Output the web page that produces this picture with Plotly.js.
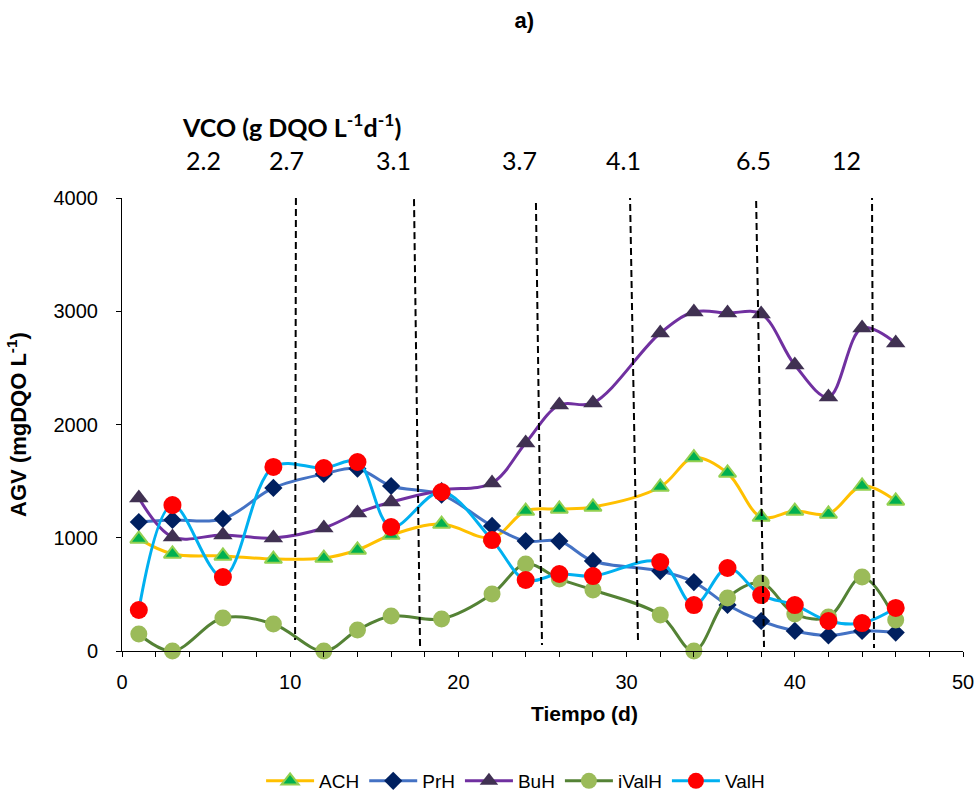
<!DOCTYPE html>
<html>
<head>
<meta charset="utf-8">
<script src="https://cdn.plot.ly/plotly-3.0.1.min.js"></script>
<style>
  html, body { margin: 0; padding: 0; background: #fff; }
  #chart { width: 980px; height: 796px; }
</style>
</head>
<body>
<div id="chart"></div>
<script>
// Sampling days (d)
const days = [1, 3, 6, 9, 12, 14, 16, 19, 22, 24, 26, 28, 32, 34, 36, 38, 40, 42, 44, 46];

// Volatile fatty acids, mgDQO/L
const ACH   = [990, 857, 839, 812, 821, 892, 1024, 1121, 1000, 1236, 1254, 1272, 1448, 1708, 1572, 1183, 1236, 1210, 1457, 1325];
const PrH   = [1139, 1157, 1166, 1440, 1563, 1610, 1457, 1380, 1104, 971, 971, 795, 706, 609, 406, 265, 177, 137, 177, 163];
const BuH   = [1351, 1007, 1024, 998, 1086, 1219, 1316, 1420, 1483, 1837, 2172, 2190, 2808, 2993, 2985, 2976, 2525, 2243, 2852, 2720];
const iValH = [150, 0, 291, 238, 0, 185, 309, 283, 503, 768, 636, 539, 318, 0, 468, 600, 327, 300, 653, 274];
const ValH  = [362, 1289, 653, 1625, 1616, 1669, 1095, 1404, 980, 627, 680, 662, 786, 406, 733, 494, 406, 265, 247, 380];

// Organic loading rate stages (g DQO L-1 d-1) and where their labels sit on the day axis
const vcoLabels = ['2.2', '2.7', '3.1', '3.7', '4.1', '6.5', '12'];
const vcoDay    = [4.82, 9.79, 16.13, 23.66, 29.8, 37.53, 43.08];

// Stage change markers (slightly slanted dashed lines): top and bottom ends
const stageTopDay = [10.34, 17.36, 24.61, 30.2, 37.69, 44.59];
const stageBotDay = [10.29, 17.72, 24.97, 30.68, 38.17, 44.71];
const stageTopVal = [4000, 3990, 3956, 4044, 4071, 4044];
const stageBotVal = [97, 44, 53, 71, 35, 27];

const AX_FONT = 'Liberation Sans, Arial, sans-serif';
const LABEL_FONT = 'Lato, Open Sans, sans-serif';

function series(name, y, lineColor, marker) {
  return {
    type: 'scatter', mode: 'lines+markers', name: name,
    x: days, y: y,
    line: { color: lineColor, width: 3, shape: 'spline', smoothing: 1 },
    marker: marker,
    cliponaxis: false
  };
}

const data = [
  series('ACH', ACH, '#FFC000', { symbol: 'triangle-up', size: 15, color: '#00B050', line: { color: '#92D050', width: 2 } }),
  series('PrH', PrH, '#4472C4', { symbol: 'diamond', size: 14, color: '#002060' }),
  series('BuH', BuH, '#7030A0', { symbol: 'triangle-up', size: 17, color: '#403152' }),
  series('iValH', iValH, '#548235', { symbol: 'circle', size: 17, color: '#9BBB59' }),
  series('ValH', ValH, '#00B0F0', { symbol: 'circle', size: 18, color: '#FF0000' })
];

const shapes = stageTopDay.map((x0, i) => ({
  type: 'line', xref: 'x', yref: 'y',
  x0: x0, y0: stageTopVal[i], x1: stageBotDay[i], y1: stageBotVal[i],
  line: { color: '#000', width: 2, dash: '7px,4px' }
}));

const annotations = vcoLabels.map((t, i) => ({
  text: t, xref: 'x', yref: 'paper', x: vcoDay[i], y: 1.084,
  xanchor: 'center', yanchor: 'middle', showarrow: false,
  font: { family: LABEL_FONT, size: 25, color: '#000' }
}));
annotations.push({
  text: '<b>VCO (g DQO L<sup>-1</sup>d<sup>-1</sup>)</b>',
  xref: 'paper', yref: 'paper', x: 0.201, y: 1.16,
  xanchor: 'center', yanchor: 'middle', showarrow: false,
  font: { family: LABEL_FONT, size: 25, color: '#000' }
});
// Day axis title, set a little right of the plot centre
annotations.push({
  text: '<b>Tiempo (d)</b>',
  xref: 'paper', yref: 'paper', x: 0.55, y: -0.138,
  xanchor: 'center', yanchor: 'middle', showarrow: false,
  font: { family: AX_FONT, size: 21, color: '#000' }
});

const axisCommon = {
  showgrid: false, zeroline: false,
  showline: true, linecolor: '#000', linewidth: 1,
  ticks: 'outside', ticklen: 5, tickcolor: '#000', tickwidth: 1,
  tickfont: { family: AX_FONT, size: 20, color: '#000' },
  ticklabelstandoff: 8
};

const layout = {
  width: 980, height: 796,
  margin: { l: 122, r: 17, t: 198, b: 145, autoexpand: false },
  paper_bgcolor: '#fff', plot_bgcolor: '#fff',
  showlegend: true,
  title: {
    text: '<b>a)</b>', xref: 'container', yref: 'container',
    x: 0.535, y: 0.974, xanchor: 'center', yanchor: 'middle',
    font: { family: AX_FONT, size: 22, color: '#000' }
  },
  xaxis: Object.assign({}, axisCommon, {
    range: [0, 50], dtick: 10, tick0: 0,
    minor: { dtick: 2, ticks: 'outside', ticklen: 5, tickcolor: '#000', showgrid: false }
  }),
  yaxis: Object.assign({}, axisCommon, {
    range: [0, 4000], dtick: 1000, tick0: 0,
    ticklabelstandoff: 14,
    title: { text: '<b>AGV (mgDQO L<sup>-1</sup>)</b>', standoff: 20, font: { family: AX_FONT, size: 22, color: '#000' } }
  }),
  legend: {
    orientation: 'h', x: 0.468, xanchor: 'center',
    yref: 'container', y: 1 - 781 / 796, yanchor: 'middle',
    font: { family: AX_FONT, size: 19, color: '#000' },
    itemwidth: 48, tracegroupgap: 0
  },
  shapes: shapes,
  annotations: annotations
};

Plotly.newPlot('chart', data, layout, { displayModeBar: false, staticPlot: true });
</script>
</body>
</html>
